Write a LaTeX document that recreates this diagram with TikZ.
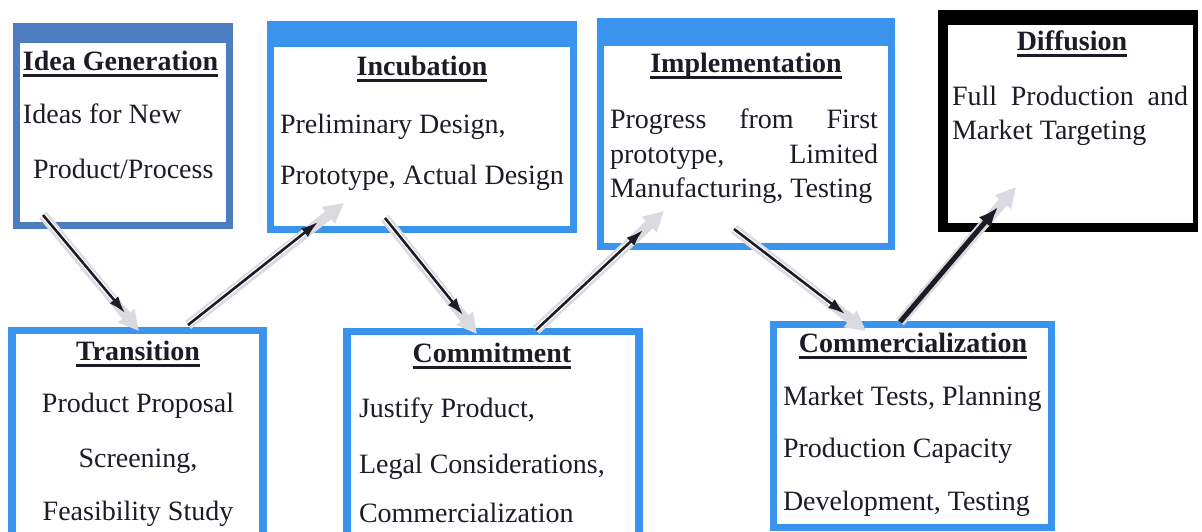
\documentclass[tikz,border=0pt]{standalone}
\usepackage{fontspec}
\setmainfont{Liberation Serif}
\usetikzlibrary{arrows.meta,calc}
\definecolor{bluea}{RGB}{76,125,192}
\definecolor{blueb}{RGB}{58,148,238}
\definecolor{ink}{RGB}{28,28,38}
\definecolor{halocol}{RGB}{218,218,224}
% #1 name, #2 x1, #3 y1, #4 x2, #5 y2, #6 colour, #7 top, #8 side, #9 bottom
\newcommand\mkpanel[9]{%
  \node[panelbox, fill=#6, minimum width={(#4-#2)*1pt}, minimum height={(#5-#3)*1pt}] (#1) at ({(#2+#4)/2},{(#3+#5)/2}) {};
  \fill[white] ([xshift=#8pt,yshift=-#7pt]#1.north west) rectangle ([xshift=-#8pt,yshift=#9pt]#1.south east);
}
\newcommand\ulnode[1]{%
  \draw[line width=3pt, ink] ([yshift=-5.5pt]#1.base west) -- ([yshift=-5.5pt]#1.base east);
}
\newcommand\fancyarrow[5]{% #1 start, #2 tip, #3 halo end, #4 style
  \draw[haloline] (#1) -- (#3);
  \draw[halowhite] (#1) -- (#2);
  \draw[#4] (#1) -- (#2);
}
\begin{document}
\begin{tikzpicture}[x=1pt,y=-1pt,
  panelbox/.style={rectangle, draw=none, inner sep=0pt, outer sep=0pt},
  txt/.style={inner sep=0pt, outer sep=0pt, text=ink, font=\fontsize{28}{34}\selectfont},
  ttl/.style={txt, font=\fontsize{28}{34}\selectfont\bfseries, anchor=base},
  bodyl/.style={txt, anchor=base west},
  bodyc/.style={txt, anchor=base},
  haloline/.style={line width=10pt, halocol, -{Triangle[length=20pt,width=20pt]}},
  halowhite/.style={line width=5pt, white, shorten >=8pt},
  arr/.style={line width=2.6pt, ink, -{Latex[length=17pt,width=11pt]}},
  arrbig/.style={line width=5pt, ink, -{Latex[length=20pt,width=16pt]}}
]
\clip (0,0) rectangle (1202,531);
\fill[white] (0,0) rectangle (1202,531);

% panels
\mkpanel{idea}{13}{23}{233}{229}{bluea}{20}{7}{7}
\mkpanel{incub}{267}{21}{577}{233}{blueb}{26}{7}{7}
\mkpanel{impl}{597}{18}{895}{250}{blueb}{28}{7}{7}
\node[panelbox, fill=black, minimum width=260pt, minimum height=222pt] (diff) at (1068,121) {};
\fill[white] ([xshift=10pt,yshift=-15pt]diff.north west) rectangle ([xshift=-5pt,yshift=9pt]diff.south east);
\mkpanel{trans}{8}{327}{267}{545}{blueb}{7}{8}{7}
\mkpanel{commit}{343}{328}{643}{545}{blueb}{7}{8}{7}
\mkpanel{comm}{770}{321}{1055}{531}{blueb}{7}{7}{7}

% Idea Generation
\node[ttl, anchor=base west] (t1) at (23,70) {Idea Generation};
\ulnode{t1}
\node[bodyl] (b1a) at (23,123) {Ideas for New};
\node[bodyl] (b1b) at (33,178) {Product/Process};

% Incubation
\node[ttl] (t2) at (422,75) {Incubation};
\ulnode{t2}
\node[bodyl] (b2a) at (280,133) {Preliminary Design,};
\node[bodyl] (b2b) at (280,184) {Prototype, Actual Design};

% Implementation
\node[ttl] (t3) at (746,72) {Implementation};
\ulnode{t3}
\node[bodyl] (b3a) at (610,128) {\makebox[268pt][s]{Progress from First}};
\node[bodyl] (b3b) at (610,163) {\makebox[268pt][s]{prototype, Limited}};
\node[bodyl] (b3c) at (610,197) {Manufacturing, Testing};

% Diffusion
\node[ttl] (t4) at (1072,50) {Diffusion};
\ulnode{t4}
\node[bodyl] (b4a) at (952,105) {\makebox[236pt][s]{Full Production and}};
\node[bodyl] (b4b) at (952,139) {Market Targeting};

% Transition
\node[ttl] (t5) at (138,360) {Transition};
\ulnode{t5}
\node[bodyc] (b5a) at (138,412) {Product Proposal};
\node[bodyc] (b5b) at (138,467) {Screening,};
\node[bodyc] (b5c) at (138,520) {Feasibility Study};

% Commitment
\node[ttl] (t6) at (492,362) {Commitment};
\ulnode{t6}
\node[bodyl] (b6a) at (359,417) {Justify Product,};
\node[bodyl] (b6b) at (359,473) {Legal Considerations,};
\node[bodyl] (b6c) at (359,522) {Commercialization};

% Commercialization
\node[ttl] (t7) at (913,352) {Commercialization};
\ulnode{t7}
\node[bodyl] (b7a) at (783,405) {Market Tests, Planning};
\node[bodyl] (b7b) at (783,457) {Production Capacity};
\node[bodyl] (b7c) at (783,510) {Development, Testing};

% arrow end points
\coordinate (a1s) at (43,215);  \coordinate (a1t) at (125,313); \coordinate (a1h) at (139,331);
\coordinate (a2s) at (188,325); \coordinate (a2t) at (318,222); \coordinate (a2h) at (344,203);
\coordinate (a3s) at (385,218); \coordinate (a3t) at (463,315); \coordinate (a3h) at (477,334);
\coordinate (a4s) at (536,330); \coordinate (a4t) at (643,230); \coordinate (a4h) at (664,211);
\coordinate (a5s) at (734,229); \coordinate (a5t) at (845,314); \coordinate (a5h) at (866,331);
\coordinate (a6s) at (900,322); \coordinate (a6t) at (998,207); \coordinate (a6h) at (1016,187);

\fancyarrow{a1s}{a1t}{a1h}{arr}{}
\fancyarrow{a2s}{a2t}{a2h}{arr}{}
\fancyarrow{a3s}{a3t}{a3h}{arr}{}
\fancyarrow{a4s}{a4t}{a4h}{arr}{}
\fancyarrow{a5s}{a5t}{a5h}{arr}{}
\fancyarrow{a6s}{a6t}{a6h}{arrbig}{}
\end{tikzpicture}
\end{document}
